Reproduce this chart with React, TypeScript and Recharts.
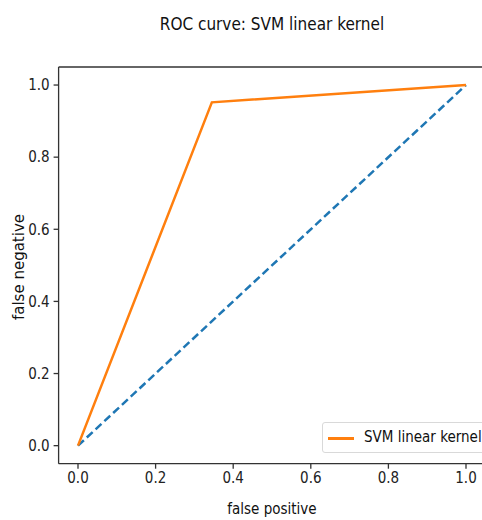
import React from 'react';
import { LineChart, Line, XAxis, YAxis, ReferenceLine } from 'recharts';

const rocPoints = [
  { x: 0, y: 0 },
  { x: 0.345, y: 0.952 },
  { x: 1, y: 1 },
];
const chancePoints = [
  { x: 0, y: 0 },
  { x: 1, y: 1 },
];
const ticks = [0, 0.2, 0.4, 0.6, 0.8, 1.0];
const title = 'ROC curve: SVM linear kernel';
const xLabel = 'false positive';
const yLabel = 'false negative';
const legendLabel = 'SVM linear kernel';

const FONT = '"DejaVu Sans Condensed", "DejaVu Sans", sans-serif';

const App: React.FC = () => {
  return (
    <div style={{ position: 'absolute', left: 0, top: 0, width: 482, height: 520, overflow: 'hidden', background: '#fff', fontFamily: FONT }}>
      <LineChart
        width={486}
        height={520}
        margin={{ top: 67, right: 0.6, left: 0, bottom: 0 }}
      >
        <XAxis
          type="number"
          dataKey="x"
          domain={[-0.05, 1.05]}
          ticks={ticks}
          tickFormatter={(t) => t.toFixed(1)}
          allowDataOverflow
          stroke="#333"
          strokeWidth={1.3}
          tickSize={5}
          tick={{ fill: '#222', fontSize: 15, fontFamily: FONT }}
          tickMargin={4}
          height={56.3}
        />
        <YAxis
          type="number"
          dataKey="y"
          domain={[-0.05, 1.05]}
          ticks={ticks}
          tickFormatter={(t) => t.toFixed(1)}
          allowDataOverflow
          stroke="#333"
          strokeWidth={1.3}
          tickSize={5}
          tick={{ fill: '#222', fontSize: 15, fontFamily: FONT }}
          tickMargin={4}
          width={58.6}
        />
        <ReferenceLine y={1.05} stroke="#333" strokeWidth={1.3} ifOverflow="visible" />
        <Line
          data={chancePoints}
          dataKey="y"
          stroke="#1f77b4"
          strokeWidth={2.5}
          strokeDasharray="8 4"
          dot={false}
          isAnimationActive={false}
        />
        <Line
          data={rocPoints}
          dataKey="y"
          stroke="#ff7f0e"
          strokeWidth={2.5}
          dot={false}
          isAnimationActive={false}
        />
      </LineChart>
      <div style={{ position: 'absolute', left: 0, width: 544, top: 14, textAlign: 'center', fontSize: 17, color: '#111' }}>
        {title}
      </div>
      <div style={{ position: 'absolute', left: 0, width: 544, top: 500, textAlign: 'center', fontSize: 15, color: '#111' }}>
        {xLabel}
      </div>
      <div
        style={{
          position: 'absolute',
          left: 18.5,
          top: 267,
          transform: 'translate(-50%, -50%) rotate(-90deg)',
          whiteSpace: 'nowrap',
          fontSize: 15,
          fontFamily: '"DejaVu Sans", sans-serif',
          color: '#111',
        }}
      >
        {yLabel}
      </div>
      <div
        style={{
          position: 'absolute',
          left: 322,
          top: 422,
          width: 170,
          height: 31,
          border: '1px solid #d9d9d9',
          borderRadius: 3,
          background: 'rgba(255,255,255,0.8)',
          boxSizing: 'border-box',
        }}
      >
        <div style={{ position: 'absolute', left: 5, top: 14, width: 26, height: 2.5, background: '#ff7f0e' }} />
        <div style={{ position: 'absolute', left: 41, top: 5, fontSize: 15, color: '#111', whiteSpace: 'nowrap' }}>
          {legendLabel}
        </div>
      </div>
    </div>
  );
};

export default App;
